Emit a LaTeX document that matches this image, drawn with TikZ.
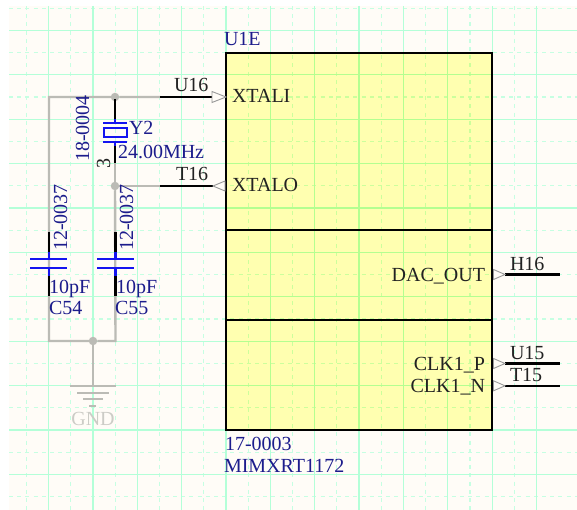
\documentclass[tikz,border=0pt]{standalone}
\usepackage{fontspec}
\setmainfont{Liberation Serif}
\definecolor{bgcream}{HTML}{FFFCF7}
\definecolor{gridout}{HTML}{B4FFD8}
\definecolor{griddash}{HTML}{C6FFE2}
\definecolor{gridin}{HTML}{B4FF90}
\definecolor{griddashin}{HTML}{CCFF9C}
\definecolor{partyellow}{HTML}{FFFFB0}
\definecolor{wiregray}{HTML}{BBBBB5}
\definecolor{labelblue}{HTML}{1C1C8C}
\definecolor{symblue}{HTML}{1414F0}
\definecolor{pintext}{HTML}{222222}
\definecolor{gndgray}{HTML}{CCCCC6}
\tikzset{
  x=1pt,y=-1pt,
  txt/.style={inner sep=0pt,outer sep=0pt,font=\fontsize{20}{24}\selectfont,anchor=base west},
  txtr/.style={txt,anchor=base east},
  pinname/.style={txt,text=pintext},
  pinnamer/.style={txtr,text=pintext},
  partlabel/.style={txt,text=labelblue},
  vlabel/.style={txt,text=labelblue,rotate=90},
  wire/.style={draw=wiregray,line width=2.4pt},
  pinline/.style={draw=black,line width=2.4pt},
  symline/.style={draw=symblue,line width=2.2pt},
  gndline/.style={draw=wiregray,line width=2pt},
  junction/.style={circle,fill=wiregray,inner sep=0pt,outer sep=0pt,minimum size=8.5pt},
  pinarrow/.style={draw=gray!80,fill=bgcream,line width=0.9pt},
  partbox/.style={draw=black,line width=2.5pt},
  gsolid/.style={line width=1.2pt},
  gdash/.style={line width=1.2pt,dash pattern=on 4pt off 4.2pt},
}
\begin{document}
\begin{tikzpicture}
\useasboundingbox (0,0) rectangle (577,510);
\fill[white] (0,0) rectangle (577,510);
\fill[bgcream] (9,6) rectangle (577,510);
% grid outside
\foreach \k in {0,...,11}{
  \draw[griddash,gdash] ({26.4+44.35*\k},6) -- ({26.4+44.35*\k},510);
}
\foreach \k in {0,...,11}{
  \draw[griddash,gdash] (9,{8.3+44.39*\k}) -- (577,{8.3+44.39*\k});
}
\foreach \k in {0,...,11}{
  \draw[gridout,gsolid] ({48.6+44.35*\k},6) -- ({48.6+44.35*\k},510);
}
\foreach \k in {0,...,10}{
  \draw[gridout,gsolid] (9,{30.5+44.39*\k}) -- (577,{30.5+44.39*\k});
}
% part body
\fill[partyellow] (226,53) rectangle (492,430);
\begin{scope}
\clip (226,53) rectangle (492,430);
\foreach \k in {0,...,11}{
  \draw[griddashin,gdash] ({26.4+44.35*\k},6) -- ({26.4+44.35*\k},510);
}
\foreach \k in {0,...,11}{
  \draw[griddashin,gdash] (9,{8.3+44.39*\k}) -- (577,{8.3+44.39*\k});
}
\foreach \k in {0,...,11}{
  \draw[gridin,gsolid] ({48.6+44.35*\k},6) -- ({48.6+44.35*\k},510);
}
\foreach \k in {0,...,10}{
  \draw[gridin,gsolid] (9,{30.5+44.39*\k}) -- (577,{30.5+44.39*\k});
}
\end{scope}
\node[partbox,inner sep=0pt,outer sep=0pt,anchor=north west,minimum width=266pt,minimum height=377pt] (u1) at (226,53) {};
\draw[partbox] (226,230) -- (492,230);
\draw[partbox] (226,320) -- (492,320);
% coordinates
\coordinate (tl) at (49,97);
\coordinate (bl) at (49,341);
\coordinate (br) at (115.5,341);
\coordinate (xin) at (160,97);
\coordinate (xout) at (160,186);
\coordinate (xinp) at (226,97);
\coordinate (xoutp) at (226,186);
\node[junction] (j1) at (115,97) {};
\node[junction] (j2) at (115,186) {};
\node[junction] (j3) at (93,341) {};
\coordinate (gt) at (93,386);
% gray wires
\draw[wire] (xin) -- (j1) -- (tl) -- (bl) -- (j3) -- (br) -- (j2);
\draw[wire] (j2) -- (xout);
\draw[wire] (j3) -- (gt);
\draw[wire] (115,163) -- (j2);
% pins on the part
\draw[pinline] (xin) -- (213,97);
\draw[pinline] (xout) -- (213,186);
\draw[pinarrow] (xinp) -- (212,91.5) -- (212,102.5) -- cycle;
\draw[pinarrow] (213,186) -- (225,181) -- (225,191) -- cycle;
\draw[pinline] (505,274.5) -- (560,274.5);
\draw[pinline] (505,363.5) -- (560,363.5);
\draw[pinline] (505,385.8) -- (560,385.8);
\draw[pinarrow] (505,274.5) -- (493.5,269.5) -- (493.5,279.5) -- cycle;
\draw[pinarrow] (505,363.5) -- (493.5,358.5) -- (493.5,368.5) -- cycle;
\draw[pinarrow] (505,385.8) -- (493.5,380.8) -- (493.5,390.8) -- cycle;
% crystal
\draw[pinline] (115,99) -- (115,120);
\draw[pinline] (115,146) -- (115,163);
\draw[symline] (115,119) -- (115,123);
\draw[symline] (115,142) -- (115,146);
\draw[symline] (103,123) -- (127,123);
\draw[symline] (103,142) -- (127,142);
\draw[symline] (104,128) rectangle (127,137);
% capacitors
\foreach \cx/\cl/\cr in {49/30/67,115.5/97/134}{
  \draw[pinline] (\cx,232) -- (\cx,252);
  \draw[symline] (\cx,252) -- (\cx,259);
  \draw[symline] (\cl,259.3) -- (\cr,259.3);
  \draw[symline] (\cl,268) -- (\cr,268);
  \draw[symline] (\cx,268) -- (\cx,276);
  \draw[pinline] (\cx,276) -- (\cx,296);
}
% ground
\draw[gndline] (70,386) -- (116,386);
\draw[gndline] (77,392.5) -- (109,392.5);
\draw[gndline] (83,399) -- (103,399);
\draw[gndline] (89,405.5) -- (96,405.5);
\node[txt,text=gndgray,anchor=base] (gnd) at (93,425) {GND};
% labels
\node[partlabel] (u1e) at (224,46) {U1E};
\node[pinname] (pxi) at (232,103) {XTALI};
\node[pinname] (pxo) at (232,192) {XTALO};
\node[pinname] (u16) at (174,92) {U16};
\node[pinname] (t16) at (176,181) {T16};
\node[partlabel] (y2) at (129,135) {Y2};
\node[partlabel] (mhz) at (118,159) {24.00MHz};
\node[vlabel] (pn1) at (89,162) {18-0004};
\node[txt,text=pintext,rotate=90] (three) at (110,169) {3};
\node[vlabel] (pn2) at (67,251) {12-0037};
\node[vlabel] (pn3) at (133,251) {12-0037};
\node[partlabel] (v1) at (49,293) {10pF};
\node[partlabel] (v2) at (116,293) {10pF};
\node[partlabel] (c54) at (49,314) {C54};
\node[partlabel] (c55) at (115,314) {C55};
\node[pinnamer] (dac) at (485,281) {DAC\_OUT};
\node[pinnamer] (ckp) at (485,370) {CLK1\_P};
\node[pinnamer] (ckn) at (485,392) {CLK1\_N};
\node[pinname] (h16) at (510,270) {H16};
\node[pinname] (u15) at (510,359) {U15};
\node[pinname] (t15) at (510,381) {T15};
\node[partlabel] (p17) at (225,450) {17-0003};
\node[partlabel] (mim) at (224,472) {MIMXRT1172};
\end{tikzpicture}
\end{document}
